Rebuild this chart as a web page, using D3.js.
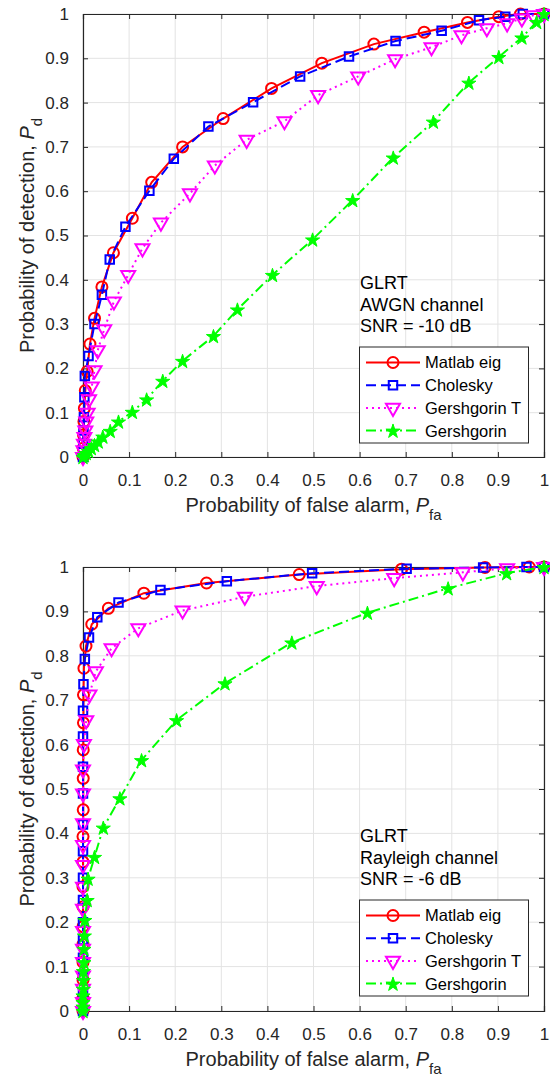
<!DOCTYPE html>
<html><head><meta charset="utf-8">
<script src="https://cdn.jsdelivr.net/npm/d3@7"></script>
<style>body{margin:0;background:#fff;} svg{display:block;}</style>
</head><body>
<script>
// ---------- DATA ----------
const xTicks = [0,0.1,0.2,0.3,0.4,0.5,0.6,0.7,0.8,0.9,1];
const yTicks = [0,0.1,0.2,0.3,0.4,0.5,0.6,0.7,0.8,0.9,1];
const seriesNames = ["Matlab eig","Cholesky","Gershgorin T","Gershgorin"];

// Panel 1: AWGN channel, SNR = -10 dB
const awgnEigPfa = [0,0.0005,0.001,0.002,0.003,0.005,0.009,0.015,0.025,0.041,0.066,0.107,0.149,0.216,0.304,0.409,0.518,0.631,0.740,0.834,0.902,0.949,1];
const awgnEigPd  = [0,0.02,0.05,0.08,0.11,0.15,0.193,0.255,0.313,0.384,0.461,0.539,0.620,0.700,0.764,0.832,0.889,0.932,0.959,0.981,0.994,1.0,1];
const awgnCholPfa = [0,0.0005,0.001,0.002,0.003,0.004,0.012,0.025,0.041,0.058,0.092,0.144,0.197,0.272,0.369,0.471,0.577,0.678,0.778,0.859,0.916,0.954,1];
const awgnCholPd  = [0,0.03,0.06,0.09,0.135,0.183,0.228,0.300,0.366,0.446,0.520,0.601,0.673,0.746,0.801,0.859,0.904,0.939,0.962,0.986,0.994,1.0,1];
const awgnGerTPfa = [0,0.001,0.002,0.003,0.005,0.007,0.010,0.013,0.019,0.025,0.032,0.046,0.067,0.098,0.129,0.169,0.232,0.286,0.355,0.437,0.510,0.597,0.677,0.756,0.821,0.876,0.920,0.952,0.977,1];
const awgnGerTPd  = [0,0.015,0.03,0.045,0.06,0.08,0.10,0.13,0.159,0.196,0.241,0.288,0.351,0.411,0.471,0.529,0.595,0.658,0.716,0.758,0.817,0.859,0.898,0.925,0.952,0.968,0.979,0.990,0.997,1];
const awgnGerPfa = [0,0.003,0.007,0.012,0.018,0.025,0.033,0.043,0.059,0.077,0.107,0.138,0.173,0.216,0.283,0.335,0.411,0.498,0.585,0.673,0.760,0.837,0.902,0.952,0.984,1];
const awgnGerPd  = [0,0.004,0.009,0.014,0.020,0.027,0.035,0.046,0.059,0.080,0.102,0.130,0.172,0.217,0.273,0.333,0.411,0.491,0.580,0.676,0.757,0.845,0.903,0.947,0.982,1];

// Panel 2: Rayleigh channel, SNR = -6 dB
const rayEigPfa = [0,0,0,0,0,0,0,0,0,0,0.0005,0.0005,0.0005,0.001,0.001,0.002,0.0065,0.019,0.055,0.132,0.268,0.469,0.691,0.872,0.968,1];
const rayEigPd  = [0,0.03,0.07,0.11,0.15,0.19,0.235,0.28,0.336,0.393,0.453,0.524,0.588,0.649,0.712,0.772,0.822,0.871,0.907,0.941,0.964,0.983,0.995,0.999,1.0,1];
const rayCholPfa = [0,0,0,0,0,0,0,0,0,0,0,0,0,0,0.001,0.004,0.013,0.031,0.077,0.168,0.312,0.497,0.702,0.868,0.962,1];
const rayCholPd  = [0,0.04,0.08,0.12,0.16,0.20,0.25,0.30,0.36,0.42,0.49,0.55,0.618,0.676,0.736,0.793,0.841,0.887,0.920,0.948,0.968,0.986,0.996,0.999,1.0,1];
const rayGerTPfa = [0,0,0,0,0,0,0,0,0,0,0,0,0,0,0.002,0.007,0.014,0.028,0.062,0.120,0.216,0.351,0.507,0.675,0.824,0.920,1];
const rayGerTPd  = [0,0.02,0.05,0.08,0.11,0.14,0.18,0.23,0.280,0.329,0.374,0.423,0.490,0.544,0.601,0.655,0.713,0.765,0.817,0.862,0.902,0.933,0.957,0.975,0.988,0.997,1];
const rayGerPfa = [0,0,0,0,0.001,0.001,0.001,0.002,0.002,0.003,0.004,0.009,0.011,0.025,0.044,0.080,0.127,0.203,0.308,0.453,0.617,0.792,0.919,1];
const rayGerPd  = [0,0.01,0.02,0.035,0.05,0.07,0.09,0.11,0.14,0.17,0.205,0.250,0.298,0.347,0.413,0.479,0.565,0.655,0.738,0.830,0.897,0.952,0.986,1.0];

const panel1Notes = ["GLRT","AWGN channel","SNR = -10 dB"];
const panel2Notes = ["GLRT","Rayleigh channel","SNR = -6 dB"];

// ---------- STYLE ----------
const styles = [
  {color:"#ff0000", dash:null, marker:"circle"},
  {color:"#0000ff", dash:"10,5", marker:"square"},
  {color:"#ff00ff", dash:"2,4", marker:"triangle"},
  {color:"#00ff00", dash:"10,4,2,4", marker:"star"}
];
const axisColor = "#262626";
const font = "'Liberation Sans', Arial, Helvetica, sans-serif";

const svg = d3.select("body").append("svg").attr("width",550).attr("height",1078)
  .style("background","#fff");

function zip(xs, ys){ return xs.map((x,i)=>[x, ys[i]]); }

function drawMarker(g, type, color, x, y){
  if(type==="circle"){
    g.append("circle").attr("cx",x).attr("cy",y).attr("r",5.5)
      .attr("fill","none").attr("stroke",color).attr("stroke-width",2);
  } else if(type==="square"){
    g.append("path").attr("d", d3.symbol(d3.symbolSquare, 72)())
      .attr("transform",`translate(${x},${y})`)
      .attr("fill","none").attr("stroke",color).attr("stroke-width",2);
  } else if(type==="triangle"){
    g.append("path").attr("d", d3.symbol(d3.symbolTriangle, 85)())
      .attr("transform",`translate(${x},${y}) rotate(180)`)
      .attr("fill","none").attr("stroke",color).attr("stroke-width",2);
  } else if(type==="star"){
    g.append("path").attr("d", d3.symbol(d3.symbolStar, 62)())
      .attr("transform",`translate(${x},${y+0.8})`)
      .attr("fill",color).attr("stroke",color).attr("stroke-width",1);
  }
}

function drawPanel(top, bottom, series, notes, legendTop){
  const left = 83, right = 544;
  const x = d3.scaleLinear().domain([0,1]).range([left,right]);
  const y = d3.scaleLinear().domain([0,1]).range([bottom,top]);
  const g = svg.append("g");

  // grid
  g.append("g").selectAll("line").data(xTicks).join("line")
    .attr("x1",d=>x(d)).attr("x2",d=>x(d)).attr("y1",top).attr("y2",bottom)
    .attr("stroke","#e3e3e3").attr("stroke-width",1);
  g.append("g").selectAll("line").data(yTicks).join("line")
    .attr("y1",d=>y(d)).attr("y2",d=>y(d)).attr("x1",left).attr("x2",right)
    .attr("stroke","#e3e3e3").attr("stroke-width",1);

  // axes (inward ticks)
  const tl = 5;
  const xb = g.append("g").attr("transform",`translate(0,${bottom})`)
    .call(d3.axisBottom(x).tickValues(xTicks).tickSize(-tl).tickPadding(14).tickFormat(d3.format("~g")));
  const xt = g.append("g").attr("transform",`translate(0,${top})`)
    .call(d3.axisTop(x).tickValues(xTicks).tickSize(-tl).tickFormat(""));
  const yl = g.append("g").attr("transform",`translate(${left},0)`)
    .call(d3.axisLeft(y).tickValues(yTicks).tickSize(-tl).tickPadding(14).tickFormat(d3.format("~g")));
  const yr = g.append("g").attr("transform",`translate(${right},0)`)
    .call(d3.axisRight(y).tickValues(yTicks).tickSize(-tl).tickFormat(""));
  [xb,xt,yl,yr].forEach(a=>{
    a.select(".domain").attr("stroke",axisColor).attr("stroke-width",1.2);
    a.selectAll(".tick line").attr("stroke",axisColor);
    a.selectAll("text").attr("fill",axisColor).style("font-family",font).style("font-size","17px");
  });
  xb.selectAll(".tick text").attr("dy","0.9em");

  // series
  series.forEach((s,i)=>{
    const st = styles[i];
    const pts = zip(s[0], s[1]);
    g.append("path").datum(pts)
      .attr("d", d3.line().x(d=>x(d[0])).y(d=>y(d[1])))
      .attr("fill","none").attr("stroke",st.color).attr("stroke-width",2)
      .attr("stroke-dasharray",st.dash);
    const mg = g.append("g");
    pts.forEach(p=>drawMarker(mg, st.marker, st.color, x(p[0]), y(p[1])));
  });

  // annotations
  notes.forEach((t,i)=>{
    g.append("text").attr("x",360).attr("y",legendTop-58+i*21.5)
      .style("font-family",font).style("font-size","18px").attr("fill","#000").text(t);
  });

  // legend
  const lg = g.append("g");
  lg.append("rect").attr("x",359.5).attr("y",legendTop).attr("width",169).attr("height",96)
    .attr("fill","#fff").attr("stroke",axisColor).attr("stroke-width",1);
  seriesNames.forEach((n,i)=>{
    const ry = legendTop + 15.5 + i*22.7;
    const st = styles[i];
    lg.append("line").attr("x1",366).attr("x2",420).attr("y1",ry).attr("y2",ry)
      .attr("stroke",st.color).attr("stroke-width",2).attr("stroke-dasharray",st.dash);
    drawMarker(lg, st.marker, st.color, 393, ry);
    lg.append("text").attr("x",425).attr("y",ry).attr("dy","0.36em")
      .style("font-family",font).style("font-size","16.5px").attr("fill","#000").text(n);
  });

  // axis labels
  const xlab = g.append("text").attr("x",(left+right)/2).attr("y",bottom+55)
    .attr("text-anchor","middle").style("font-family",font).style("font-size","20px").attr("fill",axisColor);
  xlab.append("tspan").text("Probability of false alarm, ");
  xlab.append("tspan").style("font-style","italic").text("P");
  xlab.append("tspan").attr("dy",8).style("font-size","15px").text("fa");

  const ylab = g.append("text").attr("transform",`translate(34,${(top+bottom)/2}) rotate(-90)`)
    .attr("text-anchor","middle").style("font-family",font).style("font-size","20px").attr("fill",axisColor);
  ylab.append("tspan").text("Probability of detection, ");
  ylab.append("tspan").style("font-style","italic").text("P");
  ylab.append("tspan").attr("dy",8).style("font-size","15px").text("d");
}

drawPanel(14, 457, [
  [awgnEigPfa, awgnEigPd],[awgnCholPfa, awgnCholPd],[awgnGerTPfa, awgnGerTPd],[awgnGerPfa, awgnGerPd]
], panel1Notes, 347);

drawPanel(567, 1011, [
  [rayEigPfa, rayEigPd],[rayCholPfa, rayCholPd],[rayGerTPfa, rayGerTPd],[rayGerPfa, rayGerPd]
], panel2Notes, 900);
</script>
</body></html>
